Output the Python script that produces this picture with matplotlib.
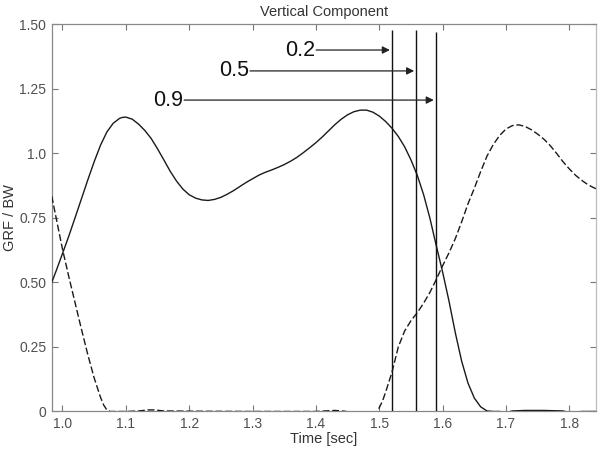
import matplotlib
matplotlib.use("Agg")
import matplotlib.pyplot as plt

plt.rcParams['font.family'] = ['Liberation Sans', 'DejaVu Sans']

# Solid curve (GRF / BW of first foot)
t_solid = [0.983, 0.990, 1.000, 1.010, 1.020, 1.030, 1.040, 1.050, 1.060, 1.070,
           1.080, 1.090, 1.095, 1.100, 1.110, 1.120, 1.130, 1.140, 1.150, 1.160,
           1.170, 1.180, 1.190, 1.200, 1.210, 1.220, 1.230, 1.240, 1.250, 1.260,
           1.270, 1.280, 1.290, 1.300, 1.310, 1.320, 1.330, 1.340, 1.350, 1.360,
           1.370, 1.380, 1.390, 1.400, 1.410, 1.420, 1.430, 1.440, 1.450, 1.460,
           1.470, 1.480, 1.490, 1.500, 1.510, 1.520, 1.530, 1.540, 1.550, 1.560,
           1.570, 1.580, 1.590, 1.600, 1.610, 1.620, 1.630, 1.640, 1.650, 1.660,
           1.670, 1.680, 1.690, 1.700, 1.710, 1.730, 1.760, 1.790, 1.800, 1.820,
           1.842]
grf_solid = [0.500, 0.545, 0.612, 0.680, 0.752, 0.825, 0.898, 0.968, 1.032, 1.083,
             1.117, 1.136, 1.140, 1.141, 1.133, 1.114, 1.089, 1.058, 1.018, 0.975,
             0.931, 0.893, 0.862, 0.840, 0.827, 0.820, 0.818, 0.822, 0.830, 0.842,
             0.856, 0.872, 0.888, 0.902, 0.916, 0.927, 0.936, 0.946, 0.957, 0.970,
             0.985, 1.003, 1.022, 1.042, 1.064, 1.088, 1.112, 1.133, 1.150, 1.162,
             1.168, 1.168, 1.160, 1.145, 1.124, 1.098, 1.066, 1.026, 0.975, 0.915,
             0.840, 0.748, 0.642, 0.540, 0.428, 0.305, 0.195, 0.110, 0.052, 0.018,
             0.002, 0.000, 0.000, -0.004, 0.002, 0.004, 0.004, 0.002, -0.004, 0.000,
             0.000]

# Dashed curve (GRF / BW of second foot)
t_dashed = [0.983, 0.990, 1.000, 1.010, 1.020, 1.030, 1.040, 1.050, 1.060, 1.065,
            1.070, 1.075, 1.100, 1.120, 1.135, 1.145, 1.160, 1.200, 1.300, 1.400,
            1.430, 1.445, 1.460, 1.490, 1.497, 1.505, 1.510, 1.520, 1.530, 1.540,
            1.550, 1.560, 1.570, 1.580, 1.590, 1.600, 1.610, 1.620, 1.630, 1.640,
            1.650, 1.660, 1.670, 1.680, 1.690, 1.700, 1.710, 1.720, 1.730, 1.740,
            1.750, 1.760, 1.770, 1.780, 1.790, 1.800, 1.810, 1.820, 1.830, 1.842]
grf_dashed = [0.835, 0.750, 0.629, 0.522, 0.420, 0.318, 0.220, 0.130, 0.055, 0.025,
              0.006, 0.000, 0.000, 0.002, 0.006, 0.006, 0.002, 0.001, 0.000, 0.000,
              0.004, 0.001, -0.005, -0.005, 0.000, 0.040, 0.075, 0.152, 0.250, 0.312,
              0.352, 0.383, 0.420, 0.462, 0.512, 0.565, 0.615, 0.670, 0.735, 0.805,
              0.865, 0.930, 0.990, 1.035, 1.070, 1.095, 1.108, 1.111, 1.105, 1.092,
              1.075, 1.055, 1.030, 1.000, 0.968, 0.940, 0.915, 0.895, 0.878, 0.863]

# Threshold markers
marker_times = [1.5197, 1.558, 1.589]
marker_top = [1.48, 1.48, 1.47]
marker_labels = ['0.2', '0.5', '0.9']
arrow_start = [1.4004, 1.296, 1.192]
arrow_y = [1.401, 1.320, 1.207]

xticks = [1.0, 1.1, 1.2, 1.3, 1.4, 1.5, 1.6, 1.7, 1.8]
xticklabels = ['1.0', '1.1', '1.2', '1.3', '1.4', '1.5', '1.6', '1.7', '1.8']
yticks = [0, 0.25, 0.5, 0.75, 1.0, 1.25, 1.5]
yticklabels = ['0', '0.25', '0.50', '0.75', '1.0', '1.25', '1.50']

fig = plt.figure(figsize=(6, 4.5), dpi=100)
ax = fig.add_axes([0.0862, 0.0856, 0.9071, 0.86])

ax.plot(t_solid, grf_solid, color='#1a1a1a', lw=1.0, zorder=3)
ax.plot(t_dashed, grf_dashed, color='#1a1a1a', lw=1.0, dashes=(5, 2), zorder=3)

for xv, top in zip(marker_times, marker_top):
    ax.vlines(xv, 0, top, color='#111111', lw=1.0, zorder=3)

for lab, x0, x1, yv in zip(marker_labels, arrow_start, marker_times, arrow_y):
    ax.annotate('', xy=(x1 - 0.003, yv), xytext=(x0, yv),
                arrowprops=dict(arrowstyle='-|>', color='#222222', lw=0.9,
                                mutation_scale=11, shrinkA=0, shrinkB=0),
                zorder=4)
    ax.text(x0 - 0.002, yv, lab, ha='right', va='center', fontsize=15.5,
            color='#111111')

ax.set_xlim(0.983, 1.842)
ax.set_ylim(0, 1.5)
ax.set_xticks(xticks)
ax.set_xticklabels(xticklabels)
ax.set_yticks(yticks)
ax.set_yticklabels(yticklabels)
ax.tick_params(direction='in', length=4, width=0.8, colors='#777777',
               labelcolor='#505050', labelsize=10, top=True, right=True, pad=4)

for side in ['left', 'bottom', 'top']:
    ax.spines[side].set_color('#888888')
    ax.spines[side].set_linewidth(0.9)
ax.spines['right'].set_color('#bbbbbb')
ax.spines['right'].set_linewidth(0.9)

ax.set_title('Vertical Component', fontsize=10.5, color='#333333', pad=6)
ax.set_xlabel('Time [sec]', fontsize=10.5, color='#333333', labelpad=1)
ax.set_ylabel('GRF / BW', fontsize=10.5, color='#333333')
ax.yaxis.set_label_coords(-0.064, 0.5)

fig.savefig('out.png', dpi=100)
